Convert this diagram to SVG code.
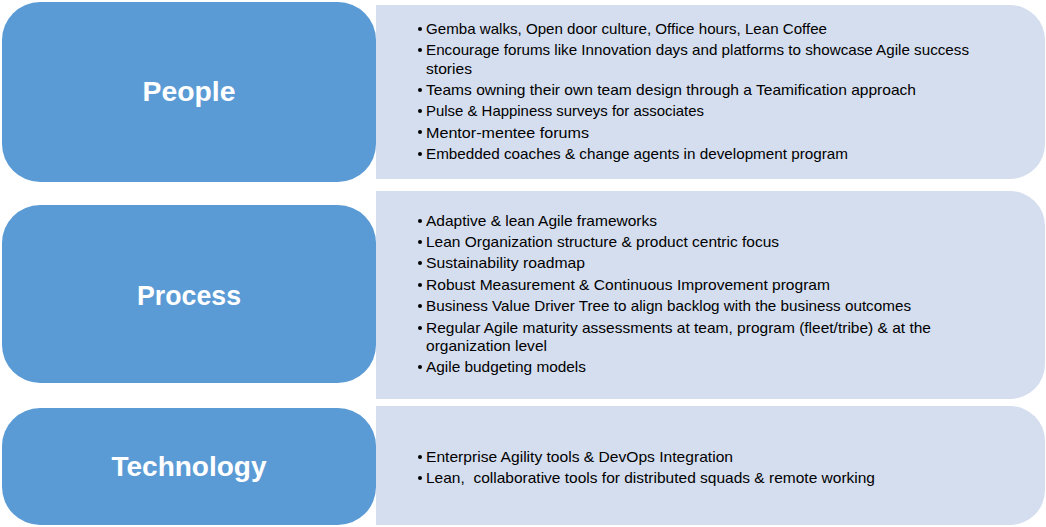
<svg xmlns="http://www.w3.org/2000/svg" width="1046" height="527" viewBox="0 0 1046 527">
<style>
.box{fill:#5B9BD5;}
.panel{fill:#D5DEEF;}
.head{font-family:"Liberation Sans",Arial,sans-serif;font-weight:bold;font-size:28px;fill:#FFFFFF;text-anchor:middle;}
.item{font-family:"Liberation Sans",Arial,sans-serif;font-size:15px;fill:#000000;}
.dot{fill:#000000;}
</style>
<rect width="1046" height="527" fill="#FFFFFF"/>
<g id="people">
<path class="panel" d="M376,5 H1010 A35,35 0 0 1 1045,40 V144 A35,35 0 0 1 1010,179 H376 Z"/>
<rect class="box" x="2" y="2" width="374" height="180" rx="38" ry="38"/>
<text class="head" x="189" y="101" textLength="93" lengthAdjust="spacingAndGlyphs">People</text>
<g class="dot">
<circle cx="420" cy="29" r="2"/><circle cx="420" cy="50" r="2"/><circle cx="420" cy="90" r="2"/>
<circle cx="420" cy="111" r="2"/><circle cx="420" cy="132" r="2"/><circle cx="420" cy="154" r="2"/>
</g>
<text class="item" x="426" y="34" textLength="401" lengthAdjust="spacingAndGlyphs">Gemba walks, Open door culture, Office hours, Lean Coffee</text>
<text class="item" x="426" y="55" textLength="543" lengthAdjust="spacingAndGlyphs">Encourage forums like Innovation days and platforms to showcase Agile success</text>
<text class="item" x="426" y="74" textLength="46" lengthAdjust="spacingAndGlyphs">stories</text>
<text class="item" x="426" y="95" textLength="490" lengthAdjust="spacingAndGlyphs">Teams owning their own team design through a Teamification approach</text>
<text class="item" x="426" y="116" textLength="278" lengthAdjust="spacingAndGlyphs">Pulse &amp; Happiness surveys for associates</text>
<text class="item" x="426" y="138" textLength="163" lengthAdjust="spacingAndGlyphs">Mentor-mentee forums</text>
<text class="item" x="426" y="159" textLength="422" lengthAdjust="spacingAndGlyphs">Embedded coaches &amp; change agents in development program</text>
</g>
<g id="process">
<path class="panel" d="M376,191 H1010 A35,35 0 0 1 1045,226 V364 A35,35 0 0 1 1010,399 H376 Z"/>
<rect class="box" x="2" y="205" width="374" height="178" rx="38" ry="38"/>
<text class="head" x="189" y="305" textLength="104" lengthAdjust="spacingAndGlyphs">Process</text>
<g class="dot">
<circle cx="420" cy="221" r="2"/><circle cx="420" cy="242" r="2"/><circle cx="420" cy="263" r="2"/>
<circle cx="420" cy="285" r="2"/><circle cx="420" cy="306" r="2"/><circle cx="420" cy="328" r="2"/>
<circle cx="420" cy="367" r="2"/>
</g>
<text class="item" x="426" y="226" textLength="231" lengthAdjust="spacingAndGlyphs">Adaptive &amp; lean Agile frameworks</text>
<text class="item" x="426" y="247" textLength="353" lengthAdjust="spacingAndGlyphs">Lean Organization structure &amp; product centric focus</text>
<text class="item" x="426" y="268" textLength="159" lengthAdjust="spacingAndGlyphs">Sustainability roadmap</text>
<text class="item" x="426" y="290" textLength="404" lengthAdjust="spacingAndGlyphs">Robust Measurement &amp; Continuous Improvement program</text>
<text class="item" x="426" y="311" textLength="485" lengthAdjust="spacingAndGlyphs">Business Value Driver Tree to align backlog with the business outcomes</text>
<text class="item" x="426" y="333" textLength="505" lengthAdjust="spacingAndGlyphs">Regular Agile maturity assessments at team, program (fleet/tribe) &amp; at the</text>
<text class="item" x="426" y="351" textLength="121" lengthAdjust="spacingAndGlyphs">organization level</text>
<text class="item" x="426" y="372" textLength="160" lengthAdjust="spacingAndGlyphs">Agile budgeting models</text>
</g>
<g id="technology">
<path class="panel" d="M376,406 H1010 A35,35 0 0 1 1045,441 V490 A35,35 0 0 1 1010,525 H376 Z"/>
<rect class="box" x="2" y="408" width="374" height="117" rx="38" ry="38"/>
<text class="head" x="189" y="476" textLength="155" lengthAdjust="spacingAndGlyphs">Technology</text>
<g class="dot">
<circle cx="420" cy="457" r="2"/><circle cx="420" cy="478" r="2"/>
</g>
<text class="item" x="426" y="462" textLength="307" lengthAdjust="spacingAndGlyphs">Enterprise Agility tools &amp; DevOps Integration</text>
<text class="item" x="426" y="483" textLength="449" lengthAdjust="spacingAndGlyphs" xml:space="preserve">Lean,  collaborative tools for distributed squads &amp; remote working</text>
</g>
</svg>
